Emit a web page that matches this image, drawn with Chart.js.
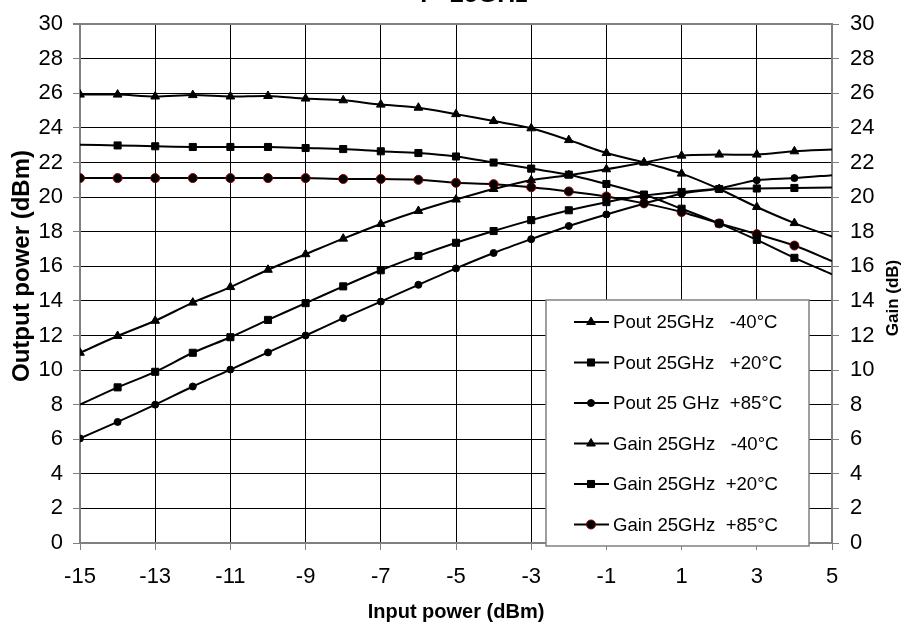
<!DOCTYPE html>
<html>
<head>
<meta charset="utf-8">
<script src="https://cdn.jsdelivr.net/npm/chart.js@4.4.0/dist/chart.umd.min.js"></script>
<style>
  html, body { margin: 0; padding: 0; background: #fff; }
</style>
</head>
<body>
<canvas id="myChart" width="906" height="625"></canvas>
<script>
// input power steps (dBm)
const inputPower = [-15, -14, -13, -12, -11, -10, -9, -8, -7, -6, -5, -4, -3, -2, -1, 0, 1, 2, 3, 4, 5];
const xTicks = [-15, -13, -11, -9, -7, -5, -3, -1, 1, 3, 5];
const yTicks = [0, 2, 4, 6, 8, 10, 12, 14, 16, 18, 20, 22, 24, 26, 28, 30];

// output power (dBm)
const poutM40 = [11.0, 11.97, 12.85, 13.9, 14.8, 15.8, 16.7, 17.6, 18.45, 19.2, 19.86, 20.47, 20.98, 21.27, 21.61, 22.0, 22.4, 22.46, 22.46, 22.65, 22.75];
const poutP20 = [8.0, 9.0, 9.9, 11.0, 11.9, 12.9, 13.87, 14.84, 15.77, 16.6, 17.36, 18.04, 18.67, 19.24, 19.71, 20.09, 20.3, 20.47, 20.5, 20.53, 20.56];
const poutP85 = [6.05, 7.0, 8.0, 9.05, 10.03, 11.02, 12.0, 13.0, 13.96, 14.93, 15.88, 16.77, 17.57, 18.33, 19.0, 19.62, 20.2, 20.5, 20.98, 21.1, 21.27];
// gain (dB)
const gainM40 = [25.93, 25.93, 25.82, 25.9, 25.82, 25.85, 25.7, 25.6, 25.35, 25.17, 24.8, 24.4, 23.98, 23.3, 22.55, 22.0, 21.36, 20.47, 19.43, 18.5, 17.72];
const gainP20 = [23.03, 22.99, 22.94, 22.9, 22.9, 22.9, 22.84, 22.78, 22.65, 22.55, 22.35, 22.0, 21.65, 21.3, 20.76, 20.15, 19.33, 18.48, 17.53, 16.49, 15.54];
const gainP85 = [21.1, 21.1, 21.1, 21.1, 21.1, 21.1, 21.1, 21.05, 21.05, 21.0, 20.83, 20.75, 20.57, 20.33, 20.04, 19.64, 19.14, 18.48, 17.86, 17.2, 16.3];

const seriesLabels = [
  "Pout 25GHz   -40°C",
  "Pout 25GHz   +20°C",
  "Pout 25 GHz  +85°C",
  "Gain 25GHz   -40°C",
  "Gain 25GHz  +20°C",
  "Gain 25GHz  +85°C"
];

const FONT = "'Liberation Sans', Arial, sans-serif";
const GRAY = "#808080";

function toPoints(arr) {
  return inputPower.map((x, i) => ({ x: x, y: arr[i] }));
}

// no marker on the last point; some series also start without one
function markerSize(r, skipFirst) {
  return (c) => {
    const last = inputPower.length - 1;
    if (c.dataIndex === last) return 0;
    if (skipFirst && c.dataIndex === 0) return 0;
    return r;
  };
}

function makeSet(label, arr, style, r, skipFirst, edge) {
  return {
    label: label,
    data: toPoints(arr),
    borderColor: "#000",
    backgroundColor: "#000",
    borderWidth: 2,
    pointStyle: style,
    pointRadius: markerSize(r, skipFirst),
    pointHoverRadius: markerSize(r, skipFirst),
    pointBackgroundColor: "#000",
    pointBorderColor: edge || "#000",
    pointBorderWidth: 1,
    legendRadius: r,
    tension: 0.3,
    yAxisID: label.startsWith("Gain") ? "y2" : "y"
  };
}

const datasets = [
  makeSet(seriesLabels[0], poutM40, "triangle", 5, false),
  makeSet(seriesLabels[1], poutP20, "rect", 5, true),
  makeSet(seriesLabels[2], poutP85, "circle", 3.5, false),
  makeSet(seriesLabels[3], gainM40, "triangle", 5, false),
  makeSet(seriesLabels[4], gainP20, "rect", 5, true),
  makeSet(seriesLabels[5], gainP85, "circle", 4.5, false, "#8b0000")
];

// box legend sitting inside the plot, bottom right
const boxLegend = {
  id: "boxLegend",
  afterDraw(chart) {
    const ctx = chart.ctx;
    const left = 546, top = 300, w = 263, h = 246;
    ctx.save();
    ctx.fillStyle = "#fff";
    ctx.fillRect(left, top, w, h);
    ctx.strokeStyle = GRAY;
    ctx.lineWidth = 1.5;
    ctx.strokeRect(left, top, w, h);
    ctx.font = "18.6px " + FONT;
    ctx.textBaseline = "middle";
    chart.data.datasets.forEach((ds, i) => {
      const y = top + 22 + i * 40.5;
      ctx.strokeStyle = "#000";
      ctx.lineWidth = 2;
      ctx.beginPath();
      ctx.moveTo(574, y);
      ctx.lineTo(609, y);
      ctx.stroke();
      ctx.fillStyle = "#000";
      ctx.strokeStyle = ds.pointBorderColor;
      ctx.lineWidth = 1;
      Chart.helpers.drawPoint(ctx, {
        pointStyle: ds.pointStyle, radius: ds.legendRadius, rotation: 0, borderWidth: 1
      }, 591, y);
      ctx.fillStyle = "#000";
      ctx.fillText(ds.label, 613, y + 1);
    });
    ctx.restore();
  }
};

// main title (mostly cut off at the top edge) and the two vertical axis titles
const extraText = {
  id: "extraText",
  afterDraw(chart) {
    const ctx = chart.ctx;
    ctx.save();
    ctx.fillStyle = "#000";
    ctx.font = "bold 25px " + FONT;
    ctx.textAlign = "center";
    ctx.textBaseline = "alphabetic";
    ctx.fillText("F=25GHz", 474, 2);

    ctx.textBaseline = "middle";
    ctx.save();
    ctx.translate(22, 266);
    ctx.rotate(-Math.PI / 2);
    ctx.font = "bold 24px " + FONT;
    ctx.fillText("Output power (dBm)", 0, 0);
    ctx.restore();

    ctx.translate(893, 298);
    ctx.rotate(-Math.PI / 2);
    ctx.font = "bold 17px " + FONT;
    ctx.fillText("Gain (dB)", 0, 0);
    ctx.restore();
  }
};

function setTicks(list) {
  return (scale) => { scale.ticks = list.map((v) => ({ value: v })); };
}

const ctx = document.getElementById("myChart");
const myChart = new Chart(ctx, {
  type: "line",
  data: { datasets: datasets },
  options: {
    responsive: false,
    animation: false,
    devicePixelRatio: 1,
    layout: { padding: { top: 16, left: 0, right: 0, bottom: 0 } },
    plugins: {
      legend: { display: false },
      title: { display: false },
      tooltip: { enabled: false }
    },
    scales: {
      x: {
        type: "linear",
        position: "bottom",
        min: -15,
        max: 5,
        afterBuildTicks: setTicks(xTicks),
        afterFit: (s) => { s.height = 82; },
        grid: {
          color: (c) => (c.tick && c.tick.value === 5 ? GRAY : "#000"),
          lineWidth: 1,
          tickLength: 7,
          tickColor: GRAY
        },
        border: { color: GRAY, width: 2 },
        ticks: {
          color: "#000",
          padding: 14,
          maxRotation: 0,
          font: { family: FONT, size: 22 },
          callback: (v) => v
        },
        title: {
          display: true,
          text: "Input power (dBm)",
          color: "#000",
          font: { family: FONT, size: 20, weight: "bold" },
          padding: { top: 0, bottom: 1 }
        }
      },
      y: {
        position: "left",
        min: 0,
        max: 30,
        afterBuildTicks: setTicks(yTicks),
        afterFit: (s) => { s.width = 80; },
        grid: {
          color: (c) => (c.tick && c.tick.value === 30 ? GRAY : "#000"),
          lineWidth: (c) => (c.tick && c.tick.value === 30 ? 2 : 1),
          tickLength: 7,
          tickColor: GRAY
        },
        border: { color: GRAY, width: 2 },
        ticks: {
          color: "#000",
          padding: 10,
          font: { family: FONT, size: 22 }
        }
      },
      y2: {
        position: "right",
        min: 0,
        max: 30,
        afterBuildTicks: setTicks(yTicks),
        afterFit: (s) => { s.width = 74; },
        grid: {
          drawOnChartArea: false,
          tickLength: 7,
          tickColor: GRAY
        },
        border: { color: GRAY, width: 2 },
        ticks: {
          color: "#000",
          padding: 11,
          font: { family: FONT, size: 22 }
        }
      }
    }
  },
  plugins: [boxLegend, extraText]
});
</script>
</body>
</html>
